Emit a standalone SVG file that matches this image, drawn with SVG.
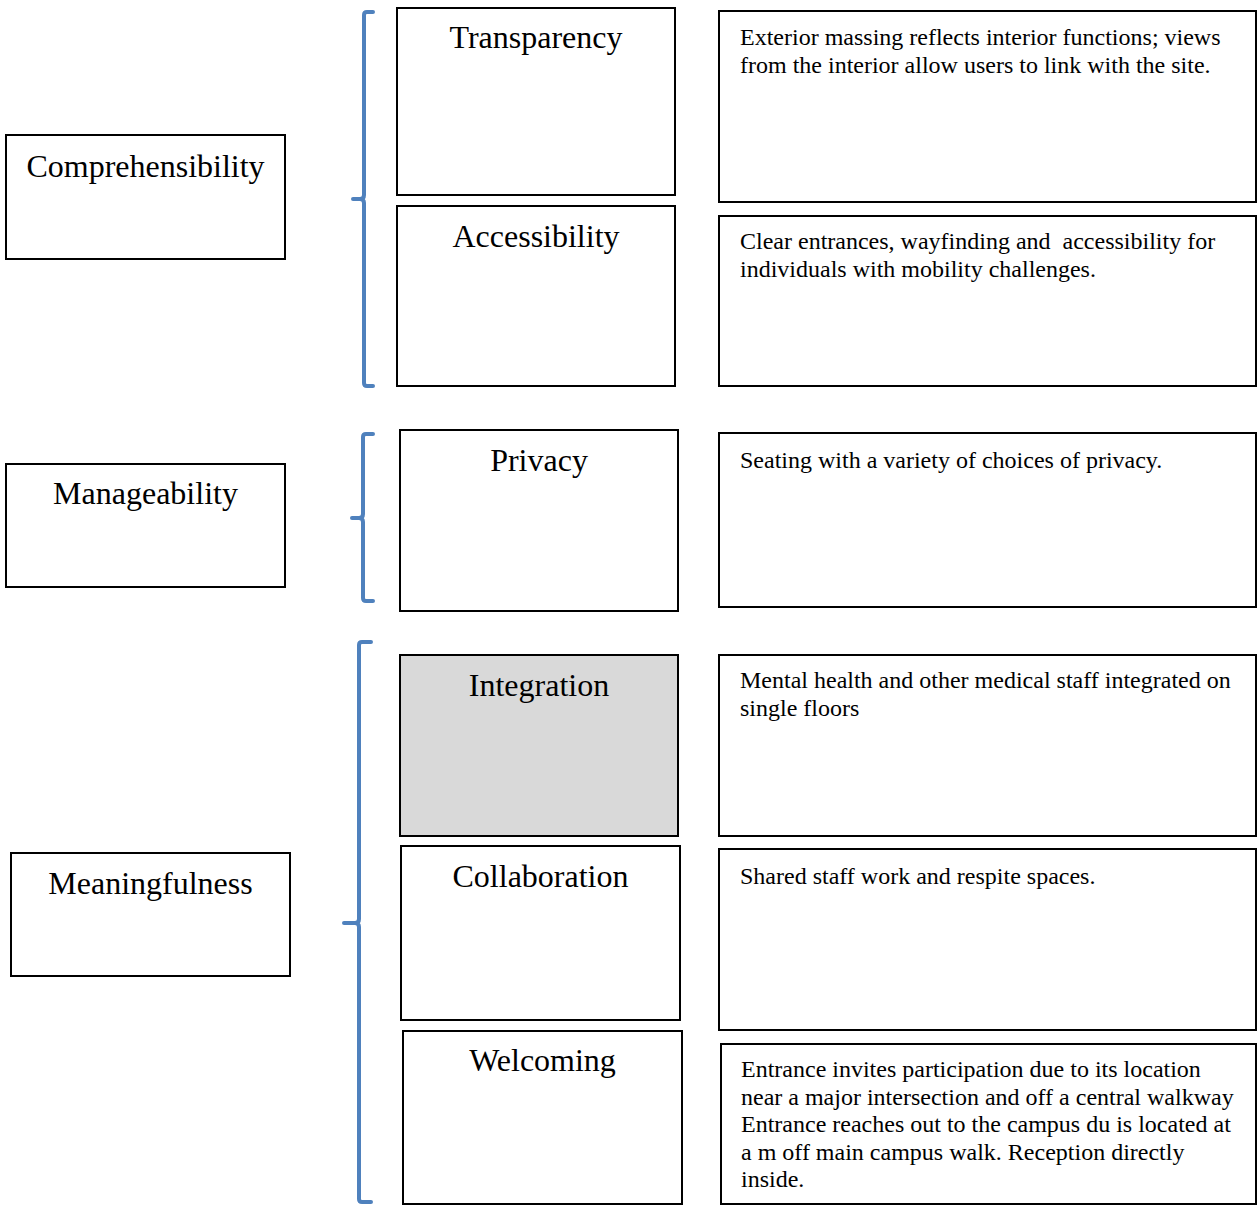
<svg xmlns="http://www.w3.org/2000/svg" width="1257" height="1205" viewBox="0 0 1257 1205">
<style>
.box{fill:#fff;stroke:#000;stroke-width:2}
.grey{fill:#D9D9D9}
.t{font-family:"Liberation Serif","Times New Roman",serif;font-size:32px;fill:#000;text-anchor:middle}
.d{font-family:"Liberation Serif","Times New Roman",serif;font-size:24px;fill:#000;white-space:pre}
.br{fill:none;stroke:#4F81BD;stroke-width:4;stroke-linecap:round;stroke-linejoin:round}
</style>
<rect width="1257" height="1205" fill="#fff"/>
<g id="connectors">
<path class="br" d="M373,12 L367,12 Q364,12 364,15 L364,195 Q364,199 360,199 L353,199 M360,199 Q364,199 364,203 L364,383 Q364,386 367,386 L373,386"/>
<path class="br" d="M373,434 L366,434 Q363,434 363,437 L363,514 Q363,518 359,518 L352,518 M359,518 Q363,518 363,522 L363,598 Q363,601 366,601 L373,601"/>
<path class="br" d="M371,642 L362,642 Q359,642 359,645 L359,919 Q359,923 355,923 L344,923 M355,923 Q359,923 359,927 L359,1199 Q359,1202 362,1202 L371,1202"/>
</g>
<g id="comprehensibility"><rect class="box" x="6" y="135" width="279" height="124"/><text class="t" x="145.5" y="177">Comprehensibility</text></g>
<g id="manageability"><rect class="box" x="6" y="464" width="279" height="123"/><text class="t" x="145.5" y="504">Manageability</text></g>
<g id="meaningfulness"><rect class="box" x="11" y="853" width="279" height="123"/><text class="t" x="150.5" y="894">Meaningfulness</text></g>
<g id="transparency"><rect class="box" x="397" y="8" width="278" height="187"/><text class="t" x="536" y="48">Transparency</text></g>
<g id="accessibility"><rect class="box" x="397" y="206" width="278" height="180"/><text class="t" x="536" y="247">Accessibility</text></g>
<g id="privacy"><rect class="box" x="400" y="430" width="278" height="181"/><text class="t" x="539" y="471">Privacy</text></g>
<g id="integration"><rect class="box grey" x="400" y="655" width="278" height="181"/><text class="t" x="539" y="696">Integration</text></g>
<g id="collaboration"><rect class="box" x="401" y="846" width="279" height="174"/><text class="t" x="540.5" y="887">Collaboration</text></g>
<g id="welcoming"><rect class="box" x="403" y="1031" width="279" height="173"/><text class="t" x="542.5" y="1071">Welcoming</text></g>
<g id="desc-transparency"><rect class="box" x="719" y="11" width="537" height="191"/><text class="d" x="740" y="45">Exterior massing reflects interior functions; views</text><text class="d" x="740" y="72.6">from the interior allow users to link with the site.</text></g>
<g id="desc-accessibility"><rect class="box" x="719" y="216" width="537" height="170"/><text class="d" x="740" y="249">Clear entrances, wayfinding and  accessibility for</text><text class="d" x="740" y="277">individuals with mobility challenges.</text></g>
<g id="desc-privacy"><rect class="box" x="719" y="433" width="537" height="174"/><text class="d" x="740" y="468">Seating with a variety of choices of privacy.</text></g>
<g id="desc-integration"><rect class="box" x="719" y="655" width="537" height="181"/><text class="d" x="740" y="688">Mental health and other medical staff integrated on</text><text class="d" x="740" y="716">single floors</text></g>
<g id="desc-collaboration"><rect class="box" x="719" y="849" width="537" height="181"/><text class="d" x="740" y="884">Shared staff work and respite spaces.</text></g>
<g id="desc-welcoming"><rect class="box" x="721" y="1044" width="535" height="160"/><text class="d" x="741" y="1077">Entrance invites participation due to its location</text><text class="d" x="741" y="1104.6">near a major intersection and off a central walkway</text><text class="d" x="741" y="1132.2">Entrance reaches out to the campus du is located at</text><text class="d" x="741" y="1159.8">a m off main campus walk. Reception directly</text><text class="d" x="741" y="1187.4">inside.</text></g>
</svg>
